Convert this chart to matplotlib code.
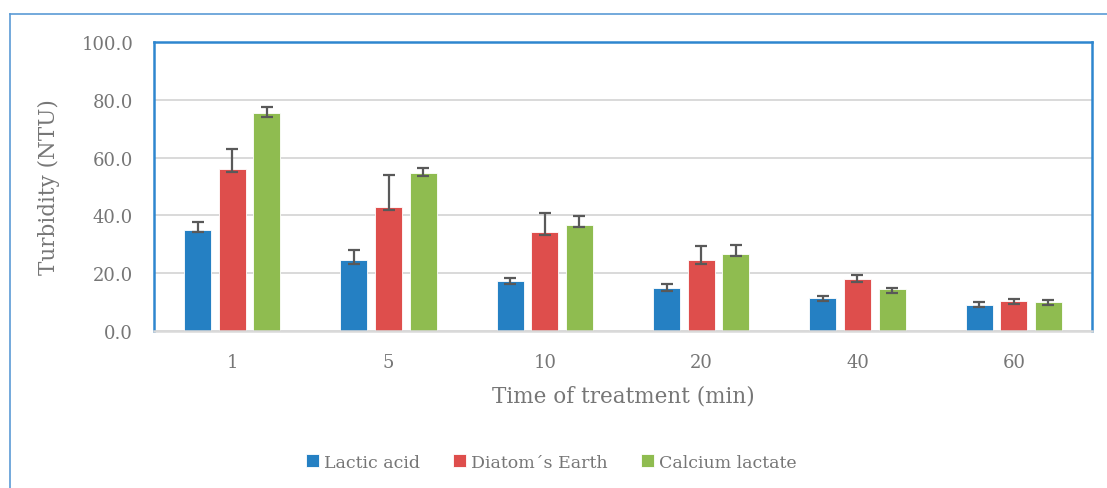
import numpy as np
import matplotlib
matplotlib.use('Agg')
import matplotlib.pyplot as plt
from matplotlib.lines import Line2D

# data
times = ['1', '5', '10', '20', '40', '60']
series = ['Lactic acid', 'Diatom\u00b4s Earth', 'Calcium lactate']

lactic = [34.9, 24.4, 17.3, 14.8, 11.4, 9.1]
diatom = [55.9, 42.8, 34.4, 24.4, 17.9, 10.3]
calcium = [75.4, 54.7, 36.8, 26.8, 14.4, 10.1]

# error bars (upper part / lower part)
lactic_up = [2.9, 3.5, 0.9, 1.3, 0.8, 1.0]
diatom_up = [7.1, 11.1, 6.5, 4.9, 1.5, 0.6]
calcium_up = [2.1, 1.6, 3.0, 3.0, 0.5, 0.5]
lactic_lo = [0.7, 1.1, 1.0, 1.0, 1.1, 0.9]
diatom_lo = [1.0, 1.0, 1.1, 1.1, 1.0, 1.0]
calcium_lo = [1.2, 0.9, 0.9, 0.9, 1.1, 1.0]

colors = ['#2580c3', '#de4e4c', '#8fbc50']
txt = '#767676'

plt.rcParams['font.family'] = ['DejaVu Serif']

fig = plt.figure(figsize=(11.07, 4.89), dpi=100)
ax = fig.add_axes([154 / 1107, 1 - 332 / 489, (1092 - 154) / 1107, (332 - 43) / 489])

x = np.arange(len(times))
w = 0.173
step = 0.221
vals = [lactic, diatom, calcium]
ups = [lactic_up, diatom_up, calcium_up]
los = [lactic_lo, diatom_lo, calcium_lo]
for i in range(3):
    pos = x + (i - 1) * step
    ax.bar(pos, vals[i], width=w, color=colors[i], edgecolor='white',
           linewidth=0.6, label=series[i], zorder=2)
    ax.errorbar(pos, vals[i], yerr=[los[i], ups[i]], fmt='none',
                ecolor='#595959', elinewidth=1.6, capsize=4.5,
                capthick=1.6, zorder=3)

ax.set_xlim(-0.5, len(times) - 0.5)
ax.set_ylim(0, 100)
ax.set_yticks(np.arange(0, 101, 20))
ax.set_yticklabels(['%.1f' % v for v in np.arange(0, 101, 20)])
ax.set_xticks(x)
ax.set_xticklabels(times)
ax.yaxis.grid(True, color='#d9d9d9', linewidth=1.4, zorder=0)
ax.set_axisbelow(True)

for s in ['left', 'top', 'right']:
    ax.spines[s].set_color('#2e86cf')
    ax.spines[s].set_linewidth(1.8)
ax.spines['bottom'].set_color('#d9d9d9')
ax.spines['bottom'].set_linewidth(1.8)

ax.tick_params(axis='both', length=0, labelsize=13, labelcolor=txt)
ax.tick_params(axis='x', pad=16)
ax.tick_params(axis='y', pad=15)

ax.set_ylabel('Turbidity (NTU)', fontsize=15.5, color=txt)
ax.yaxis.set_label_coords(-0.1, 0.5)
ax.set_xlabel('Time of treatment (min)', fontsize=15.5, color=txt)
ax.xaxis.set_label_coords(0.5, -0.185)

leg = fig.legend(loc='center', bbox_to_anchor=(0.498, 0.053), ncol=3,
                 frameon=False, fontsize=12.5, handlelength=0.75,
                 handleheight=0.75, handletextpad=0.3, columnspacing=1.9)
for t in leg.get_texts():
    t.set_color(txt)

# outer chart frame (top and left edges visible)
fig.add_artist(Line2D([10 / 1107, 1.0], [1 - 15 / 489, 1 - 15 / 489],
                      transform=fig.transFigure, color='#5b9bd5', linewidth=1.2))
fig.add_artist(Line2D([10 / 1107, 10 / 1107], [0, 1 - 15 / 489],
                      transform=fig.transFigure, color='#5b9bd5', linewidth=1.2))

fig.savefig('out.png', dpi=100)
